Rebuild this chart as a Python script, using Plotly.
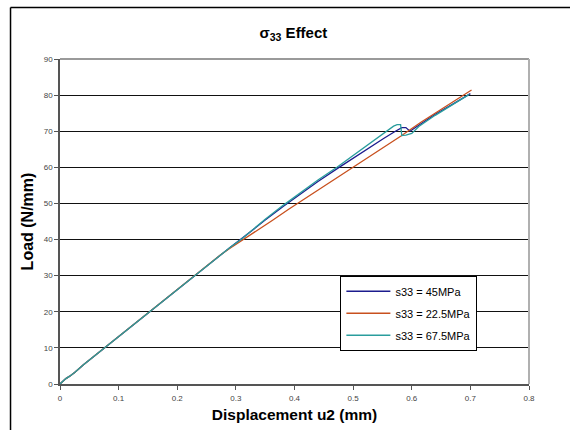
import plotly.graph_objects as go

# ---- data ----
series_names = ["s33 = 45MPa", "s33 = 22.5MPa", "s33 = 67.5MPa"]

common_x = [0, 0.004, 0.01, 0.016, 0.025, 0.04, 0.06, 0.08, 0.1, 0.13, 0.16, 0.19, 0.22, 0.25, 0.274]
common_y = [0, 0.7, 1.5, 2.1, 3.2, 5.3, 7.9, 10.6, 13.3, 17.2, 21.1, 25.0, 28.9, 32.7, 35.8]

blue_x = common_x + [0.29, 0.311, 0.33, 0.35, 0.38, 0.41, 0.44, 0.478, 0.504, 0.53, 0.552, 0.57,
                     0.583, 0.59, 0.594, 0.597, 0.605, 0.615, 0.64, 0.67, 0.70]
blue_y = common_y + [37.8, 40.4, 42.9, 45.4, 49.1, 52.6, 56.1, 60.2, 63.0, 65.8, 68.0, 69.8,
                     71.0, 71.0, 70.4, 70.0, 70.9, 72.0, 74.7, 77.5, 80.4]

orange_x = common_x + [0.29, 0.316, 0.34, 0.362, 0.39, 0.41, 0.44, 0.47, 0.50, 0.515, 0.55,
                       0.581, 0.615, 0.64, 0.67, 0.702]
orange_y = common_y + [37.6, 40.3, 42.9, 45.3, 48.4, 50.5, 53.7, 56.9, 60.1, 61.7, 65.3,
                       68.6, 72.4, 75.0, 78.1, 81.4]

teal_x = common_x + [0.29, 0.311, 0.35, 0.38, 0.41, 0.44, 0.473, 0.495, 0.52, 0.552, 0.569,
                     0.575, 0.581, 0.583, 0.59, 0.600, 0.612, 0.64, 0.67, 0.698]
teal_y = common_y + [37.8, 40.3, 45.6, 49.4, 53.0, 56.5, 60.1, 62.7, 65.6, 69.3, 71.4,
                     71.8, 71.8, 68.8, 68.9, 69.4, 71.3, 74.4, 77.3, 80.2]

x_ticks = [0, 0.1, 0.2, 0.3, 0.4, 0.5, 0.6, 0.7, 0.8]
x_tick_labels = ["0", "0.1", "0.2", "0.3", "0.4", "0.5", "0.6", "0.7", "0.8"]
y_ticks = [0, 10, 20, 30, 40, 50, 60, 70, 80, 90]

colors = ["#1c1c8e", "#c8501e", "#2a9d9d"]

FONT = "Arial, 'Liberation Sans', sans-serif"

fig = go.Figure()
for name, xs, ys, c in zip(series_names, [blue_x, orange_x, teal_x], [blue_y, orange_y, teal_y], colors):
    fig.add_trace(go.Scatter(x=xs, y=ys, mode="lines", name=name, legendgroup=name,
                             line=dict(color=c, width=1.3)))

# plot area in pixels: left 59.5, right 528.7, top 58.8, bottom 384.5
L, R, T, B = 59.5, 41.3, 58.8, 45.5
pw, ph = 570 - L - R, 430 - T - B

def px2x(px):
    return (px - L) / pw

def py2y(py):
    return (430 - B - py) / ph

fig.update_layout(
    width=570, height=430,
    margin=dict(l=L, r=R, t=T, b=B, autoexpand=False),
    paper_bgcolor="white", plot_bgcolor="white",
    font=dict(family=FONT, color="#000"),
    title=dict(text="<b>σ<sub>33</sub> Effect</b>", x=px2x(293), xref="paper", xanchor="center",
               y=1 - 33 / 430, yref="container", yanchor="middle",
               font=dict(size=15, family=FONT, color="#000")),
    xaxis=dict(range=[0, 0.8], tickvals=x_ticks, ticktext=x_tick_labels, automargin=False,
               showgrid=False, zeroline=False, showline=True, linecolor="#555", linewidth=1.5,
               ticks="outside", ticklen=4, tickcolor="#555", tickwidth=1,
               ticklabelstandoff=2,
               tickfont=dict(size=8, color="#444", family=FONT),
               title=dict(text="<b>Displacement u2 (mm)</b>", standoff=7,
                          font=dict(size=15.5, family=FONT, color="#000"))),
    yaxis=dict(range=[0, 90], tickvals=y_ticks, automargin=False,
               showgrid=True, gridcolor="#111", gridwidth=1, zeroline=False,
               showline=True, linecolor="#555", linewidth=1.5,
               ticks="outside", ticklen=4, tickcolor="#555", tickwidth=1,
               tickfont=dict(size=8, color="#444", family=FONT),
               title=dict(text="<b>Load (N/mm)</b>", standoff=6,
                          font=dict(size=16, family=FONT, color="#000"))),
    legend=dict(x=px2x(340), y=py2y(276), xanchor="left", yanchor="top",
                bgcolor="white", bordercolor="#000", borderwidth=1,
                font=dict(size=11, family=FONT, color="#000"),
                tracegroupgap=3, itemwidth=44),
    showlegend=True,
)

# plot-area border (top and right in grey) and outer chart frame
fig.add_shape(type="line", xref="paper", yref="paper", x0=0, x1=1, y0=1, y1=1,
              line=dict(color="#9a9a9a", width=2))
fig.add_shape(type="line", xref="paper", yref="paper", x0=1, x1=1, y0=0, y1=1,
              line=dict(color="#b0b0b0", width=2))
fig.add_shape(type="line", xref="paper", yref="paper", x0=px2x(10), x1=px2x(10), y0=py2y(440), y1=py2y(7.3),
              line=dict(color="#000", width=1.5))
fig.add_shape(type="line", xref="paper", yref="paper", x0=px2x(10), x1=px2x(580), y0=py2y(7.3), y1=py2y(7.3),
              line=dict(color="#000", width=1.5))

fig.write_html("out.html")
